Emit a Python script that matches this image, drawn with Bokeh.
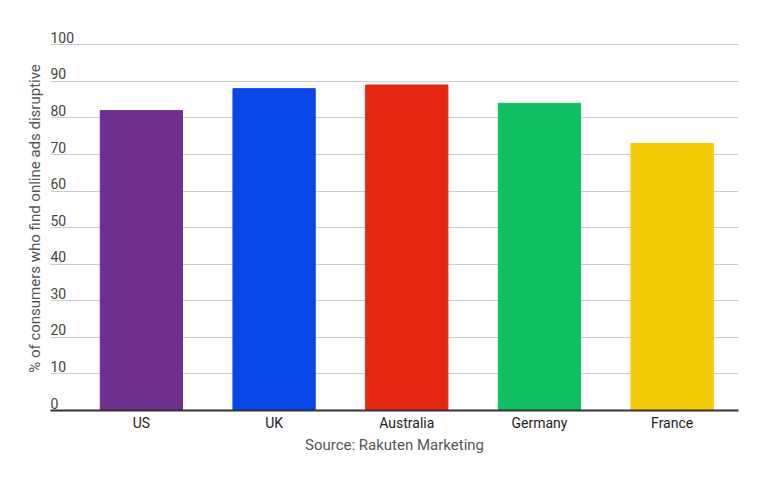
from bokeh.plotting import figure
from bokeh.models import ColumnDataSource, FixedTicker, Range1d
from bokeh.core.properties import value
from bokeh.embed import file_html
from bokeh.resources import INLINE

countries = ['US', 'UK', 'Australia', 'Germany', 'France']
disrupted = [82, 88, 89, 84, 73]
colors = ['#6e2f8e', '#0846e8', '#e52712', '#0fbf62', '#f2cb05']
y_ticks = [0, 10, 20, 30, 40, 50, 60, 70, 80, 90, 100]

xs = list(range(len(countries)))
bars = ColumnDataSource(dict(x=xs, top=disrupted, color=colors))
labels = ColumnDataSource(dict(x=[-0.685] * len(y_ticks), y=y_ticks,
                               text=[str(t) for t in y_ticks]))

p = figure( width=752
          , height=475
          , x_range=Range1d(-0.685, 4.5)
          , y_range=Range1d(0, 105)
          , toolbar_location=None
          , tools=''
          , output_backend='svg'
          , min_border_left=50
          , min_border_right=14
          , min_border_top=26
          , min_border_bottom=65
          )
p.outline_line_color = None

p.vbar( x='x'
      , top='top'
      , width=0.62
      , color='color'
      , source=bars
      )

p.text( x='x'
      , y='y'
      , text='text'
      , source=labels
      , text_font=value('Roboto')
      , text_font_size='14px'
      , text_color='#444444'
      , text_align='left'
      , text_baseline='bottom'
      , y_offset=-2
      )

p.xgrid.grid_line_color = None
p.ygrid.ticker = FixedTicker(ticks=y_ticks[1:])
p.ygrid.grid_line_color = '#cccccc'

xa = p.xaxis[0]
xa.ticker = FixedTicker(ticks=xs)
xa.major_label_overrides = {i: c for i, c in enumerate(countries)}
xa.major_label_text_font = 'Roboto'
xa.major_label_text_font_size = '14px'
xa.major_label_text_color = '#222222'
xa.major_label_standoff = 4
xa.major_tick_out = 0
xa.major_tick_in = 0
xa.major_tick_line_color = None
xa.minor_tick_line_color = None
xa.axis_line_color = '#333333'
xa.axis_line_width = 2
xa.axis_label = 'Source: Rakuten Marketing'
xa.axis_label_text_font = 'Roboto'
xa.axis_label_text_font_size = '15px'
xa.axis_label_text_font_style = 'normal'
xa.axis_label_text_color = '#555555'
xa.axis_label_standoff = 2

ya = p.yaxis[0]
ya.ticker = FixedTicker(ticks=[])
ya.axis_line_color = None
ya.major_tick_line_color = None
ya.minor_tick_line_color = None
ya.axis_label = '% of consumers who find online ads disruptive'
ya.axis_label_text_font = 'Roboto'
ya.axis_label_text_font_size = '15px'
ya.axis_label_text_font_style = 'normal'
ya.axis_label_text_color = '#555555'
ya.axis_label_standoff = 7

open("out.html", "w").write(file_html(p, INLINE))
